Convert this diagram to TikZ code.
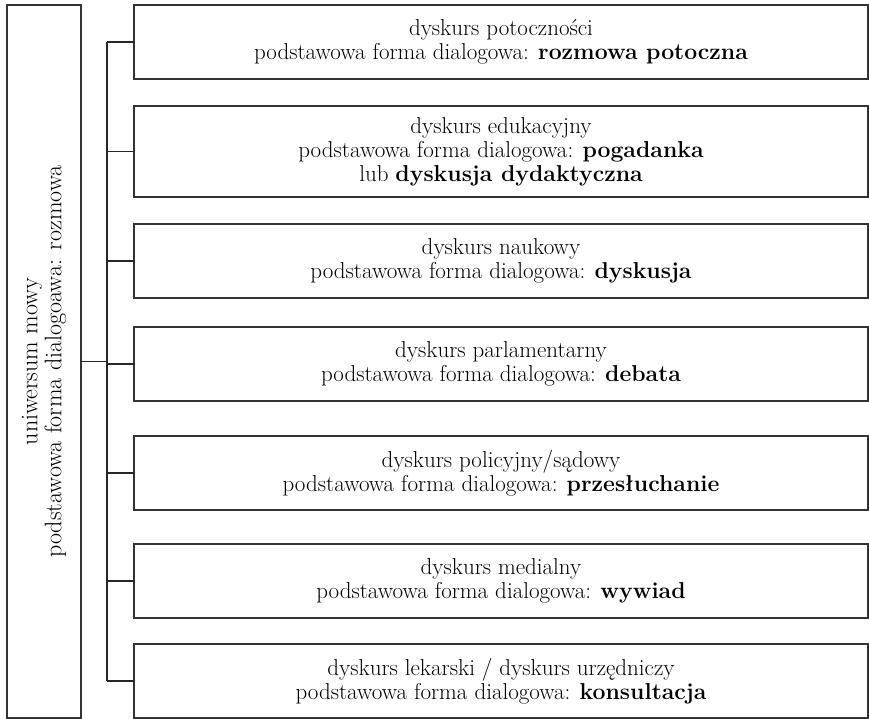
\documentclass[tikz,border=0pt]{standalone}
\usepackage{tikz}
\usetikzlibrary{positioning}

\tikzset{
    main_box/.style={draw=black!80, line width=1.1pt, outer sep=0pt, minimum width=713pt, minimum height=74pt, align=center, inner sep=0pt, font=\fontsize{24}{24}\selectfont},
    section_box/.style={draw=black!80, line width=1.1pt, outer sep=0pt, minimum width=734pt, minimum height=74pt, align=center, inner sep=0pt, font=\fontsize{23}{24}\selectfont},
    connector/.style={draw=black!85, line width=1.1pt}
}

\begin{document}
\begin{tikzpicture}
            \useasboundingbox (0pt,0pt) rectangle (869pt,-719pt);

            \node (universe) [main_box, rotate=90] at (44pt,-361.5pt) {uniwersum mowy\\ podstawowa forma dialogoawa: rozmowa};

            \node (potocznosc) [section_box, anchor=north west] at (134pt,-5pt) {dyskurs potoczności\\ podstawowa forma dialogowa: \textbf{rozmowa potoczna}};
            \node (edukacja) [section_box, minimum height=91pt, below=27pt of potocznosc] {dyskurs edukacyjny\\ podstawowa forma dialogowa: \textbf{pogadanka}\\ lub \textbf{dyskusja dydaktyczna}};
            \node (nauka) [section_box, below=27pt of edukacja] {dyskurs naukowy\\ podstawowa forma dialogowa: \textbf{dyskusja}};
            \node (parlament) [section_box, below=29pt of nauka] {dyskurs parlamentarny\\ podstawowa forma dialogowa: \textbf{debata}};
            \node (policja) [section_box, below=35pt of parlament] {dyskurs policyjny/sądowy\\ podstawowa forma dialogowa: \textbf{przesłuchanie}};
            \node (media) [section_box, below=34pt of policja] {dyskurs medialny\\ podstawowa forma dialogowa: \textbf{wywiad}};
            \node (lekarz) [section_box, below=26pt of media] {dyskurs lekarski / dyskurs urzędniczy\\ podstawowa forma dialogowa: \textbf{konsultacja}};

                % rotated node: its south side faces right
                \coordinate (spine) at (107pt,0pt);
                \draw [connector] (universe.south) -- (universe.south -| spine);
                \draw [connector] (potocznosc.west -| spine) -- (lekarz.west -| spine);
                \foreach \sect in {potocznosc, edukacja, nauka, parlament, policja, media, lekarz}
                    \draw [connector] (\sect.west -| spine) -- (\sect.west);
            \end{tikzpicture}
\end{document}
